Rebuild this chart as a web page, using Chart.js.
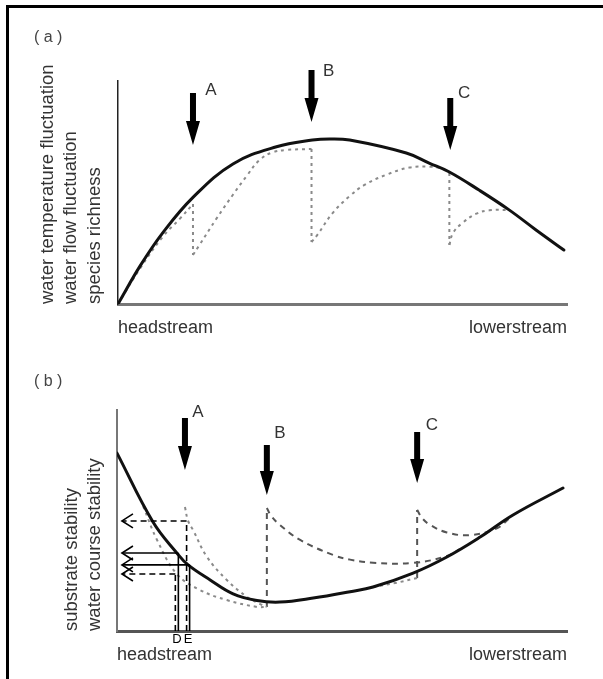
<!DOCTYPE html>
<html>
<head>
<meta charset="utf-8">
<script src="https://cdn.jsdelivr.net/npm/chart.js@4.4.1/dist/chart.umd.min.js"></script>
<style>
  html, body { margin: 0; padding: 0; background: #fff; }
  #page { position: relative; width: 603px; height: 679px; overflow: hidden; background: #fff; }
  #frame { position: absolute; left: 6px; top: 5px; right: -10px; bottom: -10px;
           border-top: 3px solid #000; border-left: 3px solid #000; pointer-events: none; }
  canvas { position: absolute; left: 0; }
  #panelA { top: 0; }
  #panelB { top: 340px; }
</style>
</head>
<body>
<div id="page">
  <canvas id="panelA" width="603" height="340"></canvas>
  <canvas id="panelB" width="603" height="339"></canvas>
  <div id="frame"></div>
</div>
<script>
// ---- shared ----
const STREAM_ENDS = ['headstream', 'lowerstream'];
const DAM_NAMES = ['A', 'B', 'C'];

// ---- (a) fluctuation and richness along the river (distance 0-100, level 0-100) ----
const aTitle = ['water temperature fluctuation', 'water flow fluctuation', 'species richness'];
const aNatural = [[0,0],[5,17.3],[10,32.0],[16.7,47.8],[25.6,62.8],[35.3,70.5],[43.3,73.5],[47.1,74.0],
                  [51.6,73.5],[64.2,67.7],[69.3,63.2],[73.8,59.2],[80.4,51.1],[87.1,42.2],[93.1,33.2],[99.3,24.2]];
const aBeforeA   = [[0,0],[5,16.2],[10,30.2],[13.8,38.3],[16.7,44.8]];
const aDropA     = [[16.7,44.8],[16.7,22.0]];
const aRecoverA  = [[16.7,22.0],[18.0,26.0],[22.0,38.5],[25.6,49.0],[28.7,57.5],[31.5,64.5],[34.4,68.0],[37.6,69.1],[43.1,69.5]];
const aDropB     = [[43.1,69.5],[43.1,27.8]];
const aRecoverB  = [[43.1,27.8],[44.4,31.0],[47.8,40.8],[51.6,48.4],[55.0,53.5],[59.8,58.0],[64.9,61.2],[69.3,61.6],[72.0,60.8],[73.8,58.7]];
const aDropC     = [[73.8,58.7],[73.8,26.5]];
const aRecoverC  = [[73.8,26.5],[74.6,31.8],[76.7,36.3],[79.8,40.5],[82.7,42.0],[87.1,42.2]];
const aArrowX    = [16.7, 43.1, 74.0];
const aArrowTop  = [94.6, 104.9, 92.4];
const aArrowTip  = [71.3, 81.6, 69.1];
const aNameAt    = [[20.7,96.0],[46.9,104.3],[77.1,94.6]];

// ---- (b) stability along the river ----
const bTitle = ['substrate stability', 'water course stability'];
const bNatural = [[0,80.5],[8.0,49.3],[13.3,35.3],[15.8,29.9],[20.7,23.1],[25.8,16.8],[31.1,13.8],[36.2,13.1],
                  [43.6,14.9],[51.8,17.8],[56.9,19.9],[65.8,26.2],[73.3,33.5],[80.7,42.5],[88.0,52.5],[99.1,64.7]];
const bBelowA    = [[5.8,56.5],[8.9,41.2],[13.3,25.8],[18.4,18.6],[24.4,14.0],[31.1,10.9],[33.3,10.9]];
const bFromA     = [[15.1,56.1],[15.8,49.8],[16.9,45.7],[20.0,33.5],[24.4,23.1],[28.9,15.4],[31.8,12.2],[33.3,10.9]];
const bRiseB     = [[33.3,10.9],[33.3,55.7]];
const bRecoverB  = [[33.3,55.7],[34.2,52.3],[36.2,48.0],[40.7,41.2],[48.0,34.4],[51.8,32.3],[56.9,30.9],[65.8,30.8],[73.3,33.9],[76.2,37.1]];
const bBeforeC   = [[56.9,19.9],[61.8,21.7],[66.7,24.0]];
const bRiseC     = [[66.7,24.0],[66.7,54.8]];
const bRecoverC  = [[66.7,54.8],[67.8,51.1],[69.6,48.0],[73.3,44.6],[78.4,43.4],[84.4,46.5],[87.5,51.5]];
const bArrowX    = [15.1, 33.3, 66.7];
const bArrowTop  = [96.4, 84.2, 90.0];
const bArrowTip  = [72.9, 61.5, 67.0];
const bNameAt    = [[18.0,99.1],[36.2,89.6],[70.0,93.2]];
// reading points D and E: natural level (solid) and level with the dam (dashed)
const bGuideNames   = ['D', 'E'];
const bGuideX       = [13.3, 15.8];
const bGuideNatural = [35.3, 29.9];
const bGuideDam     = [25.8, 49.8];
const bGuideTipX    = 1.1;

Chart.defaults.font.family = '"Liberation Sans", Arial, sans-serif';
Chart.defaults.animation = false;

const SOLID  = { borderColor: '#111', borderWidth: 3, borderCapStyle: 'round', borderJoinStyle: 'round' };
const DOTTED = { borderColor: '#8a8a8a', borderWidth: 2, borderDash: [3, 4] };
const DASHED = { borderColor: '#555', borderWidth: 2, borderDash: [6, 5] };

function curve(points, style, smooth = true) {
  return Object.assign({
    data: points.map(([x, y]) => ({ x, y })),
    showLine: true, pointRadius: 0, pointHoverRadius: 0, fill: false,
    tension: smooth ? 0.4 : 0
  }, style);
}

function downArrow(ctx, x, yTop, yTip) {
  const shaft = 6, headW = 14, headL = 24;
  ctx.beginPath();
  ctx.moveTo(x - shaft / 2, yTop);
  ctx.lineTo(x + shaft / 2, yTop);
  ctx.lineTo(x + shaft / 2, yTip - headL);
  ctx.lineTo(x + headW / 2, yTip - headL);
  ctx.lineTo(x, yTip);
  ctx.lineTo(x - headW / 2, yTip - headL);
  ctx.lineTo(x - shaft / 2, yTip - headL);
  ctx.closePath();
  ctx.fill();
}

function leftArrow(ctx, x0, x1, y, dashed) {
  ctx.setLineDash(dashed ? [6, 4] : []);
  ctx.beginPath();
  ctx.moveTo(x0, y);
  ctx.lineTo(x1, y);
  ctx.stroke();
  ctx.setLineDash([]);
  ctx.beginPath();
  ctx.moveTo(x1 + 11, y - 7);
  ctx.lineTo(x1, y);
  ctx.lineTo(x1 + 11, y + 7);
  ctx.stroke();
}

const riverMarks = {
  id: 'riverMarks',
  afterDraw(chart, _args, o) {
    const { ctx, chartArea } = chart;
    const xs = chart.scales.x, ys = chart.scales.y;
    const px = v => xs.getPixelForValue(v), py = v => ys.getPixelForValue(v);
    ctx.save();

    // panel tag
    ctx.fillStyle = '#444';
    ctx.font = '16px "Liberation Sans"';
    ctx.textAlign = 'left';
    ctx.textBaseline = 'middle';
    ctx.fillText(o.tag, chartArea.left + o.tagDx, chartArea.top + o.tagDy);

    // dam arrows and their names
    ctx.fillStyle = '#000';
    o.arrowX.forEach((x, i) => downArrow(ctx, px(x), py(o.arrowTop[i]), py(o.arrowTip[i])));
    ctx.fillStyle = '#333';
    ctx.font = '17px "Liberation Sans"';
    ctx.textAlign = 'center';
    o.nameAt.forEach(([x, y], i) => ctx.fillText(DAM_NAMES[i], px(x), py(y)));

    // reading guides D / E
    if (o.guides) {
      const g = o.guides;
      ctx.strokeStyle = '#000';
      ctx.lineWidth = 1.6;
      g.x.forEach((x, i) => {
        const gx = px(x);
        // dashed: level with the dam
        ctx.setLineDash([6, 4]);
        ctx.beginPath(); ctx.moveTo(gx - 1.5, py(0)); ctx.lineTo(gx - 1.5, py(g.dam[i])); ctx.stroke();
        leftArrow(ctx, gx - 1.5, px(g.tipX), py(g.dam[i]), true);
        // solid: natural level
        ctx.setLineDash([]);
        ctx.beginPath(); ctx.moveTo(gx + 1.5, py(0)); ctx.lineTo(gx + 1.5, py(g.natural[i])); ctx.stroke();
        leftArrow(ctx, gx + 1.5, px(g.tipX), py(g.natural[i]), false);
      });
      ctx.fillStyle = '#000';
      ctx.font = '13px "Liberation Sans"';
      ctx.textAlign = 'center';
      ctx.textBaseline = 'top';
      g.x.forEach((x, i) => ctx.fillText(g.names[i], px(x), py(0) + 2));
    }
    ctx.restore();
  }
};

function panel(canvasId, datasets, title, marks, geom) {
  return new Chart(document.getElementById(canvasId), {
    type: 'scatter',
    data: { datasets },
    options: {
      responsive: false,
      events: [],
      layout: { padding: geom.padding },
      plugins: { legend: { display: false }, tooltip: { enabled: false }, riverMarks: marks },
      scales: {
        x: {
          type: 'linear', min: 0, max: 100,
          grid: { display: false, drawTicks: false },
          border: { display: true, color: geom.xAxisColor, width: 3 },
          afterBuildTicks: s => { s.ticks = [{ value: 0 }, { value: 100 }]; },
          afterFit: s => { s.height = 30; },
          ticks: {
            align: 'inner', padding: 13, color: '#333', font: { size: 18 },
            maxRotation: 0, autoSkip: false,
            callback: v => (v === 0 ? STREAM_ENDS[0] : STREAM_ENDS[1])
          }
        },
        y: {
          type: 'linear', min: 0, max: 100,
          grid: { display: false, drawTicks: false },
          border: { display: true, color: geom.yAxisColor, width: geom.yAxisWidth },
          ticks: { display: false },
          afterFit: s => { s.width = geom.yWidth; },
          title: {
            display: true, text: title, align: 'start', color: '#333',
            font: { size: 18.5, lineHeight: 1.27 },
            padding: { top: geom.titlePad, bottom: 0 }
          }
        }
      }
    },
    plugins: [riverMarks]
  });
}

panel('panelA', [
  curve(aNatural, SOLID),
  curve(aBeforeA, DOTTED),
  curve(aDropA, DOTTED, false),
  curve(aRecoverA, DOTTED),
  curve(aDropB, DOTTED, false),
  curve(aRecoverB, DOTTED),
  curve(aDropC, DOTTED, false),
  curve(aRecoverC, DOTTED)
], aTitle, {
  tag: '( a )', tagDx: -84, tagDy: -43,
  arrowX: aArrowX, arrowTop: aArrowTop, arrowTip: aArrowTip, nameAt: aNameAt
}, {
  padding: { left: 36, right: 36, top: 81, bottom: 6 },
  yWidth: 82, titlePad: 0, xAxisColor: '#777', yAxisColor: '#222', yAxisWidth: 1.5
});

panel('panelB', [
  curve(bNatural, SOLID),
  curve(bBelowA, DOTTED),
  curve(bFromA, DOTTED),
  curve(bRiseB, DASHED, false),
  curve(bRecoverB, DASHED),
  curve(bBeforeC, DOTTED),
  curve(bRiseC, DASHED, false),
  curve(bRecoverC, DASHED)
], bTitle, {
  tag: '( b )', tagDx: -83, tagDy: -28,
  arrowX: bArrowX, arrowTop: bArrowTop, arrowTip: bArrowTip, nameAt: bNameAt,
  guides: { x: bGuideX, natural: bGuideNatural, dam: bGuideDam, tipX: bGuideTipX, names: bGuideNames }
}, {
  padding: { left: 36, right: 36, top: 70, bottom: 18 },
  yWidth: 81, titlePad: 24, xAxisColor: '#555', yAxisColor: '#777', yAxisWidth: 2
});
</script>
</body>
</html>
